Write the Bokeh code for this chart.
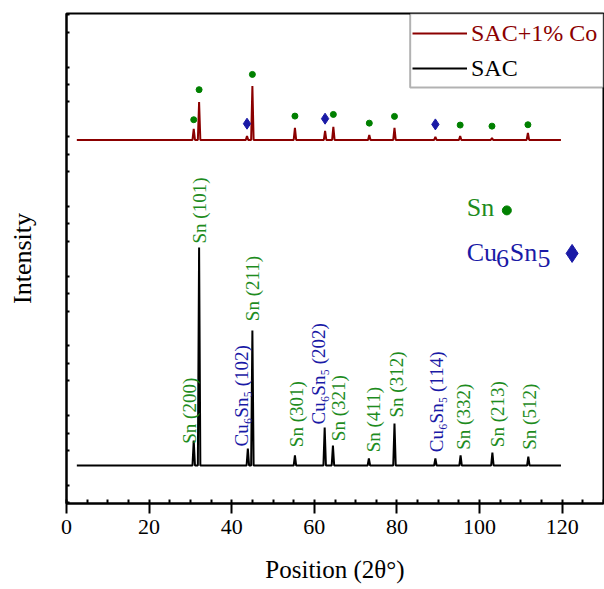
import numpy as np
from bokeh.plotting import figure
from bokeh.models import (Range1d, SingleIntervalTicker, FixedTicker, ColumnDataSource, Legend,
                          LegendItem, BoxAnnotation)
from bokeh.core.properties import value
from bokeh.embed import file_html
from bokeh.resources import INLINE

# ---------------- data ----------------
scan_start, scan_end = 2.5, 119.7

# SAC (black) diffraction peaks: 2-theta and peak height above baseline
sac_theta = [30.8, 32.1, 43.9, 45.0, 55.3, 62.5, 64.5, 73.2, 79.4, 89.3, 95.4, 103.1, 111.8]
sac_height = [359, 3128, 244, 1937, 144, 545, 287, 100, 603, 100, 144, 187, 129]
sac_base = 34

# SAC+1% Co (dark red) diffraction peaks (offset pattern)
co_theta = [30.8, 32.1, 43.7, 45.0, 55.3, 62.6, 64.6, 73.3, 79.4, 89.3, 95.3, 103.0, 111.7]
co_height = [158, 545, 57, 775, 172, 129, 187, 72, 172, 43, 57, 29, 100]
co_base = 4705

# phase markers above the SAC+1% Co pattern
sn_mark_theta = [30.8, 32.1, 45.0, 55.3, 64.6, 73.3, 79.4, 95.3, 103.0, 111.7]
sn_mark_y = [4995, 5426, 5645, 5047, 5071, 4946, 5043, 4918, 4903, 4923]
cu_mark_theta = [43.7, 62.6, 89.3]
cu_mark_y = [4938, 5010, 4928]

# peak labels on the SAC pattern
label_text = ["Sn (200)", "Sn (101)", "Cu\u2086Sn\u2085 (102)", "Sn (211)", "Sn (301)",
              "Cu\u2086Sn\u2085 (202)", "Sn (321)", "Sn (411)", "Sn (312)",
              "Cu\u2086Sn\u2085 (114)", "Sn (332)", "Sn (213)", "Sn (512)"]
label_phase = ["Sn", "Sn", "Cu", "Sn", "Sn", "Cu", "Sn", "Sn", "Sn", "Cu", "Sn", "Sn", "Sn"]
label_theta = [29.7, 32.3, 42.4, 45.1, 55.6, 61.0, 65.8, 74.3, 79.9, 89.5, 96.1, 104.3, 112.1]
label_y = [346, 3220, 307, 2105, 297, 623, 383, 225, 723, 225, 260, 297, 260]

# phase key
key_parts = ["Sn", "Cu", "6", "Sn", "5"]
key_phase = ["Sn", "Cu", "Cu", "Cu", "Cu"]
key_theta = [96.9, 96.9, 104.0, 107.3, 114.0]
key_y = [3740, 3094, 3003, 3094, 3003]
key_sn_theta, key_sn_y = [106.6], [3694]
key_cu_theta, key_cu_y = [122.4], [3077]

x_tick_interval = 20
y_tick_interval = 1000
# ---------------------------------------

GREEN = "#1e8c1e"
BLUE = "#1a1aa6"
DARKRED = "#8b0000"
FONT = "Liberation Serif"
phase_color = {"Sn": GREEN, "Cu": BLUE}
X0, X1 = 0, 130
Y0, Y1 = -511, 6519


def pattern(thetas, heights, base, hw=0.3):
    xs, ys = [scan_start], [base]
    for t, h in sorted(zip(thetas, heights)):
        xs += [t - hw, t, t + hw]
        ys += [base, base + h, base]
    xs.append(scan_end)
    ys.append(base)
    return xs, ys


p = figure(width=604, height=589, x_range=Range1d(X0, X1), y_range=Range1d(Y0, Y1),
           output_backend="svg", toolbar_location=None,
           min_border_left=66, min_border_right=1, min_border_top=13, min_border_bottom=86)

p.grid.visible = False
p.outline_line_color = "black"
p.outline_line_width = 2
p.background_fill_color = "white"

sx, sy = pattern(sac_theta, sac_height, sac_base)
cx, cy = pattern(co_theta, co_height, co_base)
r_co = p.line(cx, cy, line_color=DARKRED, line_width=2)
r_sac = p.line(sx, sy, line_color="black", line_width=2)

p.scatter(sn_mark_theta, sn_mark_y, marker="circle", size=6, fill_color="#008000",
          line_color="#008000")
p.scatter(cu_mark_theta, cu_mark_y, marker="diamond", size=11, fill_color=BLUE,
          line_color=BLUE)

lab = ColumnDataSource(dict(x=label_theta, y=label_y, t=label_text,
                            c=[phase_color[ph] for ph in label_phase]))
p.text("x", "y", text="t", source=lab, angle=np.pi / 2, text_align="left",
       text_baseline="middle", text_color="c", text_font=value(FONT),
       text_font_size="19px")

key = ColumnDataSource(dict(x=key_theta, y=key_y, t=key_parts,
                            c=[phase_color[ph] for ph in key_phase]))
p.text("x", "y", text="t", source=key, text_align="left", text_baseline="alphabetic",
       text_color="c", text_font=value(FONT), text_font_size="26px")
p.scatter(key_sn_theta, key_sn_y, marker="circle", size=9, fill_color="#008000",
          line_color="#008000")
p.scatter(key_cu_theta, key_cu_y, marker="diamond", size=18, fill_color=BLUE,
          line_color=BLUE)

# axes
p.xaxis.ticker = SingleIntervalTicker(interval=x_tick_interval, num_minor_ticks=4)
y_minor = [v for v in range(-500, 6751, y_tick_interval // 4) if v % y_tick_interval != 0]
p.yaxis.ticker = FixedTicker(ticks=[], minor_ticks=y_minor)
p.xaxis.axis_label = "Position (2\u03b8\u00b0)"
p.yaxis.axis_label = "Intensity"
for ax in (p.xaxis, p.yaxis):
    ax.axis_line_width = 2
    ax.axis_line_color = "black"
    ax.axis_label_text_font = FONT
    ax.axis_label_text_font_style = "normal"
    ax.axis_label_text_color = "black"
    ax.major_label_text_font = FONT
    ax.major_label_text_color = "black"
    ax.minor_tick_line_width = 2
    ax.minor_tick_line_color = "black"
    ax.minor_tick_out = 0

p.xaxis.major_label_text_font_size = "22px"
p.xaxis.axis_label_text_font_size = "25px"
p.xaxis.major_tick_in = 0
p.xaxis.major_tick_out = 10
p.xaxis.major_tick_line_width = 2
p.xaxis.minor_tick_in = 4
p.xaxis.major_label_standoff = 6
p.xaxis.axis_label_standoff = 19

p.yaxis.axis_label_text_font_size = "26px"
p.yaxis.axis_label_standoff = 30
p.yaxis.major_tick_in = 0
p.yaxis.major_tick_out = 0
p.yaxis.minor_tick_in = 3

# legend box and entries
box = BoxAnnotation(left=83.2, right=X1, bottom=5459, top=Y1, fill_color="white",
                    fill_alpha=1, line_color="black", line_width=2)
p.add_layout(box)

common = dict(padding=0, margin=0, spacing=0, label_height=30, glyph_height=30,
              glyph_width=55, label_standoff=4, border_line_alpha=0,
              background_fill_alpha=0, label_text_font=FONT, label_text_font_size="24px")
leg_co = Legend(items=[LegendItem(label="SAC+1% Co", renderers=[r_co])],
                location=(346, 455), label_text_color=DARKRED, **common)
leg_sac = Legend(items=[LegendItem(label="SAC", renderers=[r_sac])],
                 location=(346, 420), label_text_color="black", **common)
p.add_layout(leg_co)
p.add_layout(leg_sac)

open("out.html", "w").write(file_html(p, INLINE))
